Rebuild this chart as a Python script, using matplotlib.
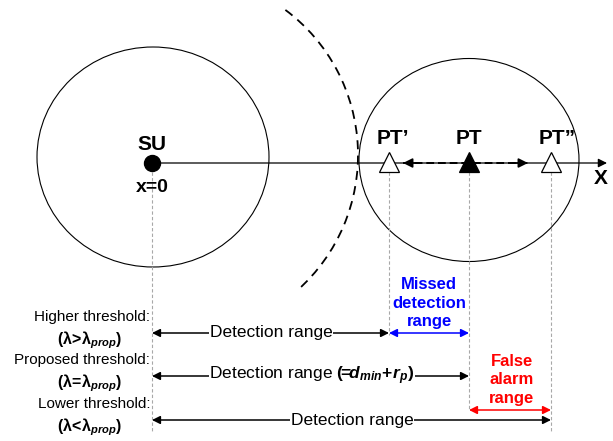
import matplotlib
matplotlib.use("Agg")
import matplotlib.pyplot as plt
from matplotlib.patches import Ellipse, Arc

plt.rcParams["font.family"] = ["Liberation Sans", "DejaVu Sans"]
plt.rcParams["mathtext.fontset"] = "custom"
plt.rcParams["mathtext.rm"] = "Liberation Sans"
plt.rcParams["mathtext.bf"] = "Liberation Sans:bold"
plt.rcParams["mathtext.it"] = "Liberation Sans:italic"
plt.rcParams["mathtext.bfit"] = "Liberation Sans:bold:italic"

# node positions along the X axis (pixel units of the drawing)
node_names = ["SU", "PT\u2019", "PT", "PT\u201d"]
node_x = [152, 389, 469, 551]
axis_y = 163

# threshold rows
threshold_names = ["Higher threshold:", "Proposed threshold:", "Lower threshold:"]
threshold_conds = [r"$\mathbf{(\lambda\!>\!\lambda}_{\mathbfit{prop}}\mathbf{)}$",
                   r"$\mathbf{(\lambda\!=\!\lambda}_{\mathbfit{prop}}\mathbf{)}$",
                   r"$\mathbf{(\lambda\!<\!\lambda}_{\mathbfit{prop}}\mathbf{)}$"]
row_y = [333, 376, 420]
detect_end = [389, 469, 551]
detect_text = ["Detection range",
               "Detection range " + r"$\mathbf{(\!\!=\!\!}\mathbfit{d}_{\mathbfit{min}}\mathbf{\!+\!}\mathbfit{r}_{\mathbfit{p}}\mathbf{)}$",
               "Detection range"]
detect_text_x = [271, 312, 352]

fig = plt.figure(figsize=(6.13, 4.41), dpi=100)
ax = fig.add_axes([0, 0, 1, 1])
ax.set_xlim(0, 613)
ax.set_ylim(441, 0)
ax.axis("off")

# coverage circles
ax.add_patch(Ellipse((153, 157), 232, 220, fill=False, lw=0.8, ec="black"))
ax.add_patch(Ellipse((469, 160), 220, 203, fill=False, lw=0.8, ec="black"))
ax.add_patch(Arc((180, 155), 356, 360, theta1=-54, theta2=49,
                 lw=1.3, ls=(0, (5, 3.5)), color="black"))

# X axis
ax.annotate("", xy=(607, axis_y), xytext=(node_x[0], axis_y),
            arrowprops=dict(arrowstyle="-|>", lw=0.9, color="black",
                            mutation_scale=13, shrinkA=0, shrinkB=0))
ax.text(601, 178, "X", fontsize=15, fontweight="bold", ha="center", va="center")

# dashed double arrow between PT' and PT''
ax.plot([403, 528], [axis_y, axis_y], color="black", lw=1.4, ls=(0, (4, 2)))
for tip, tail in [(403, 418), (528, 513)]:
    ax.annotate("", xy=(tip, axis_y), xytext=(tail, axis_y),
                arrowprops=dict(arrowstyle="-|>", lw=1.2, color="black",
                                mutation_scale=14, shrinkA=0, shrinkB=0))

# vertical guides
guide_end = [432, 335, 410, 432]
for x, y1 in zip(node_x, guide_end):
    ax.plot([x, x], [172, y1], color="#a8a8a8", lw=0.8, ls=(0, (3, 2)), zorder=1)

# nodes
ax.plot(node_x[0], axis_y, "o", ms=11.5, color="black", zorder=5)
ax.plot(node_x[1], 162, "^", ms=14, mfc="white", mec="black", mew=0.9, zorder=5)
ax.plot(node_x[2], 162, "^", ms=14, mfc="black", mec="black", mew=0.9, zorder=5)
ax.plot(node_x[3], 162, "^", ms=14, mfc="white", mec="black", mew=0.9, zorder=5)
ax.text(node_x[0], 144, node_names[0], fontsize=15, fontweight="bold", ha="center", va="center")
ax.text(node_x[0], 188, "x=0", fontsize=14, fontweight="bold", ha="center", va="center")
label_x = [None, 393, 469, 557]
for i in range(1, 4):
    ax.text(label_x[i], 139, node_names[i], fontsize=15, fontweight="bold",
            ha="center", va="center")

# threshold rows
for i in range(3):
    ax.text(150, row_y[i] - 16, threshold_names[i], fontsize=11, ha="right", va="center")
    ax.text(90, row_y[i] + 7, threshold_conds[i], fontsize=11.5, ha="center", va="center")
    ax.annotate("", xy=(detect_end[i], row_y[i]), xytext=(node_x[0], row_y[i]),
                arrowprops=dict(arrowstyle="<|-|>", lw=1.1, color="black",
                                mutation_scale=12, shrinkA=0, shrinkB=0))
    ax.text(detect_text_x[i], row_y[i], detect_text[i], fontsize=12.5, ha="center",
            va="center", bbox=dict(fc="white", ec="none", pad=0.5), zorder=4)

# missed detection range
ax.annotate("", xy=(node_x[2], row_y[0]), xytext=(node_x[1], row_y[0]),
            arrowprops=dict(arrowstyle="<|-|>", lw=1.1, color="blue",
                            mutation_scale=12, shrinkA=0, shrinkB=0))
ax.text(429, 303, "Missed\ndetection\nrange", color="blue", fontsize=12,
        fontweight="bold", ha="center", va="center", linespacing=1.3)

# false alarm range
ax.annotate("", xy=(node_x[3], 410), xytext=(node_x[2], 410),
            arrowprops=dict(arrowstyle="<|-|>", lw=1.1, color="red",
                            mutation_scale=12, shrinkA=0, shrinkB=0))
ax.text(512, 380, "False\nalarm\nrange", color="red", fontsize=12,
        fontweight="bold", ha="center", va="center", linespacing=1.3)

fig.savefig("out.png", dpi=100)
